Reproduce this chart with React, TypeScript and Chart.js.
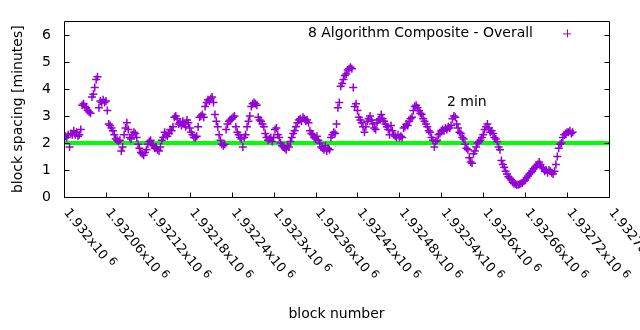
import { useEffect, useRef } from "react";
import { Chart, registerables } from "chart.js";

Chart.register(...registerables);

const X_MIN = 1932000;
const X_MAX = 1932780;
const X_STEP = 60;
const Y_MIN = 0;
const Y_MAX = 6.5;
const Y_STEP = 1;
const FIRST_BLOCK = 1932002;
const BLOCK_STEP = 2;
const TARGET_MINUTES = 2;
const SERIES_LABEL = "8 Algorithm Composite - Overall";
const TARGET_LABEL = "2 min";
const TARGET_LABEL_AT = { x: 1932548, y: 3.5 };
const X_TITLE = "block number";
const Y_TITLE = "block spacing [minutes]";

const SPACING = [
  2.25, 2.2, 2.3, 1.85, 2.35, 2.3, 2.45, 2.3, 2.4, 2.25,
  2.3, 2.5, 3.4, 3.45, 3.35, 3.3, 3.2, 3.15, 3.1, 3.7,
  3.8, 4.05, 4.35, 4.45, 3.3, 3.55, 3.5, 3.6, 3.5, 3.55,
  3.2, 2.7, 2.65, 2.55, 2.45, 2.3, 2.15, 2.1, 2.05, 2.1,
  1.7, 1.85, 2.3, 2.55, 2.75, 2.5, 2.2, 2.15, 2.3, 2.4,
  2.35, 2.2, 1.95, 1.8, 1.65, 1.6, 1.55, 1.65, 1.75, 1.95,
  2.05, 2.1, 1.95, 1.9, 1.8, 1.85, 1.75, 1.7, 1.85, 2.1,
  2.2, 2.4, 2.3, 2.25, 2.35, 2.5, 2.45, 2.6, 2.95, 3.0,
  2.9, 2.7, 2.75, 2.65, 2.8, 2.7, 2.6, 2.85, 2.75, 2.55,
  2.4, 2.3, 2.2, 2.2, 2.25, 2.6, 2.95, 3.0, 3.05, 2.95,
  3.35, 3.5, 3.6, 3.55, 3.65, 3.7, 3.5, 3.05, 2.8, 2.6,
  2.3, 2.1, 1.95, 1.9, 1.95, 2.5, 2.7, 2.8, 2.85, 2.9,
  2.95, 3.0, 2.6, 2.4, 2.3, 2.2, 2.15, 1.85, 2.2, 2.3,
  2.6, 2.8, 3.0, 3.35, 3.45, 3.5, 3.45, 3.4, 2.95, 2.85,
  2.8, 2.7, 2.6, 2.35, 2.2, 2.1, 2.15, 2.2, 2.05, 2.2,
  2.5, 2.55, 2.3, 2.2, 2.0, 1.9, 1.85, 1.8, 1.75, 1.9,
  1.85, 2.05, 2.2, 2.35, 2.45, 2.6, 2.75, 2.85, 2.9, 2.8,
  2.95, 2.9, 2.8, 2.85, 2.75, 2.45, 2.35, 2.3, 2.2, 2.15,
  2.25, 2.1, 2.0, 1.85, 1.8, 1.75, 1.9, 1.7, 1.8, 1.75,
  2.2, 2.3, 2.4, 2.35, 2.7, 3.3, 3.5, 4.1, 4.2, 4.35,
  4.5, 4.55, 4.7, 4.75, 4.8, 4.75, 4.05, 3.35, 3.45, 3.2,
  2.95, 2.85, 2.75, 2.6, 2.4, 2.6, 2.8, 2.9, 3.0, 2.85,
  2.7, 2.55, 2.5, 2.75, 2.85, 2.9, 3.05, 2.9, 2.8, 2.7,
  2.6, 2.5, 2.3, 2.65, 2.45, 2.3, 2.25, 2.2, 2.3, 2.2,
  2.25, 2.2, 2.55, 2.6, 2.7, 2.65, 2.8, 2.9, 2.95, 3.2,
  3.35, 3.4, 3.3, 3.2, 3.1, 3.05, 2.9, 2.8, 2.7, 2.6,
  2.45, 2.4, 2.2, 2.1, 1.85, 2.05, 2.1, 2.3, 2.35, 2.45,
  2.5, 2.45, 2.55, 2.5, 2.6, 2.55, 2.65, 2.9, 3.0, 2.95,
  2.7, 2.55, 2.4, 2.35, 2.2, 2.15, 1.95, 1.8, 1.75, 1.45,
  1.3, 1.25, 1.6, 1.7, 1.85, 2.0, 2.05, 2.1, 2.2, 2.3,
  2.5, 2.6, 2.7, 2.55, 2.4, 2.45, 2.35, 2.2, 2.15, 2.05,
  1.85, 1.75, 1.35, 1.2, 1.1, 0.95, 0.85, 0.75, 0.7, 0.65,
  0.55, 0.5, 0.48, 0.45, 0.45, 0.47, 0.5, 0.52, 0.58, 0.62,
  0.7, 0.78, 0.85, 0.9, 0.95, 1.05, 1.1, 1.15, 1.2, 1.3,
  1.2, 1.1, 1.05, 0.95, 1.0, 0.9, 1.0, 0.95, 0.9, 0.85,
  0.95, 1.2, 1.5, 1.8, 1.95, 2.0, 2.2, 2.3, 2.35, 2.4,
  2.4, 2.45, 2.35, 2.4,
];

const PURPLE = "#9400d3";
const GREEN = "#00ff00";
const FONT_FAMILY = "'DejaVu Sans', sans-serif";
const FONT_SIZE = 14;
const TICK_LABEL_ANGLE = (51 * Math.PI) / 180;

function mantissa(v: number): string {
  return String(parseFloat((v / 1e6).toFixed(6)));
}

const gnuplotFrame = {
  id: "gnuplotFrame",
  afterDraw(chart: any) {
    const { ctx, chartArea, scales } = chart;
    const { left, right, top, bottom } = chartArea;
    const xs = scales.x;
    const ys = scales.y;
    const L = Math.round(left) + 0.5;
    const R = Math.round(right) + 0.5;
    const T = Math.round(top) + 0.5;
    const B = Math.round(bottom) + 0.5;
    ctx.save();
    ctx.strokeStyle = "#000";
    ctx.lineWidth = 1;
    ctx.beginPath();
    ctx.rect(L, T, R - L, B - T);
    ctx.stroke();
    const TL = 5;
    ctx.beginPath();
    ys.ticks.forEach((t: any) => {
      const py = Math.round(ys.getPixelForValue(t.value)) + 0.5;
      ctx.moveTo(L, py);
      ctx.lineTo(L + TL, py);
      ctx.moveTo(R, py);
      ctx.lineTo(R - TL, py);
    });
    xs.ticks.forEach((t: any) => {
      const px = Math.round(xs.getPixelForValue(t.value)) + 0.5;
      ctx.moveTo(px, B);
      ctx.lineTo(px, B - TL);
    });
    ctx.stroke();

    // rotated x tick labels
    ctx.fillStyle = "#000";
    xs.ticks.forEach((t: any) => {
      const px = xs.getPixelForValue(t.value);
      ctx.save();
      ctx.translate(px + 2, B + 13);
      ctx.rotate(TICK_LABEL_ANGLE);
      ctx.textAlign = "left";
      ctx.textBaseline = "middle";
      ctx.font = `${FONT_SIZE - 1}px ${FONT_FAMILY}`;
      const main = mantissa(t.value) + "x10";
      ctx.fillText(main, 0, 0);
      const w = ctx.measureText(main).width;
      ctx.font = `${FONT_SIZE - 3}px ${FONT_FAMILY}`;
      ctx.fillText("6", w + 4, -4);
      ctx.restore();
    });

    // key
    ctx.font = `${FONT_SIZE}px ${FONT_FAMILY}`;
    ctx.textAlign = "right";
    ctx.textBaseline = "middle";
    ctx.fillText(SERIES_LABEL, right - 76, top + 12);
    const kx = right - 42;
    const ky = top + 12;
    ctx.strokeStyle = PURPLE;
    ctx.beginPath();
    ctx.moveTo(kx - 4, ky + 0.5);
    ctx.lineTo(kx + 4, ky + 0.5);
    ctx.moveTo(kx + 0.5, ky - 4);
    ctx.lineTo(kx + 0.5, ky + 4);
    ctx.stroke();

    // target label
    ctx.textAlign = "left";
    ctx.fillText(
      TARGET_LABEL,
      xs.getPixelForValue(TARGET_LABEL_AT.x),
      ys.getPixelForValue(TARGET_LABEL_AT.y)
    );
    ctx.restore();
  },
};

export default function App() {
  const ref = useRef<HTMLCanvasElement | null>(null);
  useEffect(() => {
    if (!ref.current) return;
    const points = SPACING.map((v, i) => ({ x: FIRST_BLOCK + i * BLOCK_STEP, y: v }));
    const chart = new Chart(ref.current, {
      type: "scatter",
      data: {
        datasets: [
          {
            label: SERIES_LABEL,
            data: points,
            pointStyle: "cross",
            pointRadius: 4,
            pointBorderWidth: 1.5,
            borderColor: PURPLE,
            backgroundColor: PURPLE,
            showLine: false,
            order: 0,
          },
          {
            type: "line",
            label: TARGET_LABEL,
            data: [
              { x: X_MIN, y: TARGET_MINUTES },
              { x: X_MAX, y: TARGET_MINUTES },
            ],
            borderColor: GREEN,
            borderWidth: 4,
            pointRadius: 0,
            order: 1,
          } as any,
        ],
      },
      options: {
        responsive: false,
        animation: false,
        events: [],
        layout: { padding: { top: 19, right: 31, left: 0, bottom: 0 } },
        plugins: { legend: { display: false }, tooltip: { enabled: false } },
        scales: {
          x: {
            type: "linear",
            min: X_MIN,
            max: X_MAX,
            grid: { display: false, drawTicks: false },
            border: { display: false },
            ticks: { display: false, stepSize: X_STEP, includeBounds: false } as any,
            title: {
              display: true,
              text: X_TITLE,
              color: "#000",
              font: { family: FONT_FAMILY, size: FONT_SIZE },
              padding: { top: 0, bottom: 7 },
            },
            afterFit(scale: any) {
              scale.height = 133;
            },
          },
          y: {
            min: Y_MIN,
            max: Y_MAX,
            grid: { display: false, drawTicks: false },
            border: { display: false },
            ticks: {
              stepSize: Y_STEP,
              includeBounds: false,
              padding: 13,
              color: "#000",
              font: { family: FONT_FAMILY, size: FONT_SIZE },
            } as any,
            title: {
              display: true,
              text: Y_TITLE,
              color: "#000",
              font: { family: FONT_FAMILY, size: FONT_SIZE },
              padding: { top: 10, bottom: 0 },
            },
            afterFit(scale: any) {
              scale.width = 64;
            },
          },
        },
      },
      plugins: [gnuplotFrame],
    });
    return () => chart.destroy();
  }, []);
  return (
    <div style={{ position: "fixed", left: 0, top: 0, width: 640, height: 330, background: "#fff" }}>
      <canvas ref={ref} width={640} height={330} style={{ display: "block" }} />
    </div>
  );
}
